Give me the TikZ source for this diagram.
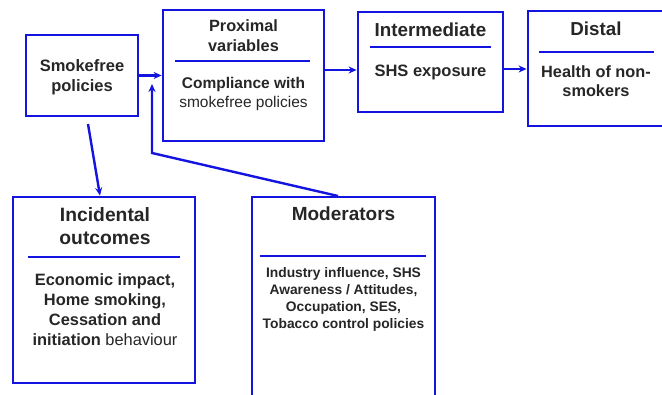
\documentclass[tikz,border=0pt]{standalone}
\usepackage{fontspec}
\setmainfont{Liberation Sans}
\usetikzlibrary{arrows.meta}
\definecolor{lblue}{RGB}{20,20,225}
\begin{document}
\begin{tikzpicture}[x=1pt,y=-1pt,
  boxst/.style={draw=lblue,line width=2.8pt,minimum width=#1,inner sep=0pt},
  conn/.style={draw=lblue,line width=2.4pt,-{Stealth[length=8pt,width=7pt]}},
  rule/.style={draw=lblue,line width=2.4pt},
  txt/.style={align=center,inner sep=0pt,text=black!85}]
\useasboundingbox (0,0) rectangle (662,395);
\begin{scope}
\clip (0,0) rectangle (662,395);
% boxes
\node[boxst=112pt,minimum height=81pt] (sf) at (82,75.5) {};
\node[boxst=161pt,minimum height=131pt] (prox) at (243.5,75.5) {};
\node[boxst=145pt,minimum height=100pt] (inter) at (430.5,62) {};
\node[boxst=138pt,minimum height=115pt] (dist) at (597,68.5) {};
\node[boxst=182pt,minimum height=186pt] (inc) at (104,290) {};
\node[boxst=183pt,minimum height=206pt] (mod) at (343.5,300) {};
\end{scope}
% texts
\node[txt,font=\bfseries\fontsize{16.5}{20}\selectfont] (sft) at (82,77) {Smokefree\\policies};
\node[txt,font=\bfseries\fontsize{16.3}{20}\selectfont] (proxh) at (243.5,36) {Proximal\\variables};
\node[txt,font=\fontsize{15.5}{19}\selectfont] (proxb) at (243.5,94) {\textbf{Compliance with}\\smokefree policies};
\node[txt,font=\bfseries\fontsize{18.8}{22}\selectfont] (interh) at (430.5,30) {Intermediate};
\node[txt,font=\bfseries\fontsize{16.5}{20}\selectfont] (interb) at (430.5,72) {SHS exposure};
\node[txt,font=\bfseries\fontsize{18.8}{22}\selectfont] (disth) at (596,29) {Distal};
\node[txt,font=\bfseries\fontsize{16.3}{19}\selectfont] (distb) at (596,81.5) {Health of non-\\smokers};
\node[txt,font=\bfseries\fontsize{19.3}{23}\selectfont] (inch) at (105,226.5) {Incidental\\outcomes};
\node[txt,font=\bfseries\fontsize{16.4}{20}\selectfont] (incb) at (105,310) {Economic impact,\\Home smoking,\\Cessation and\\initiation \mdseries behaviour};
\node[txt,font=\bfseries\fontsize{19}{22}\selectfont] (modh) at (343.5,214) {Moderators};
\node[txt,font=\bfseries\fontsize{13.8}{17}\selectfont] (modb) at (343.5,299) {Industry influence, SHS\\Awareness / Attitudes,\\Occupation, SES,\\Tobacco control policies};
% heading rules
\draw[rule] (175,61) -- (310,61);
\draw[rule] (370,47) -- (491,47);
\draw[rule] (539,52) -- (654,52);
\draw[rule] (28,257) -- (180,257);
\draw[rule] (260,256) -- (426,256);
% connectors
\coordinate (r1) at (0,70);
\coordinate (r2) at (0,69);
\draw[conn] (sf.east) -- (sf.east -| prox.west);
\draw[conn] (prox.east |- r1) -- (inter.west |- r1);
\draw[conn] (inter.east |- r2) -- (dist.west |- r2);
\coordinate (mstart) at (338,196);
\coordinate (bend) at (152,153);
\coordinate (mend) at (152,84);
\draw[conn] (mstart) -- (bend) -- (mend);
\coordinate (dstart) at (88,124);
\coordinate (dend) at (100,0);
\draw[conn] (dstart) -- (inc.north -| dend);
\end{tikzpicture}
\end{document}
